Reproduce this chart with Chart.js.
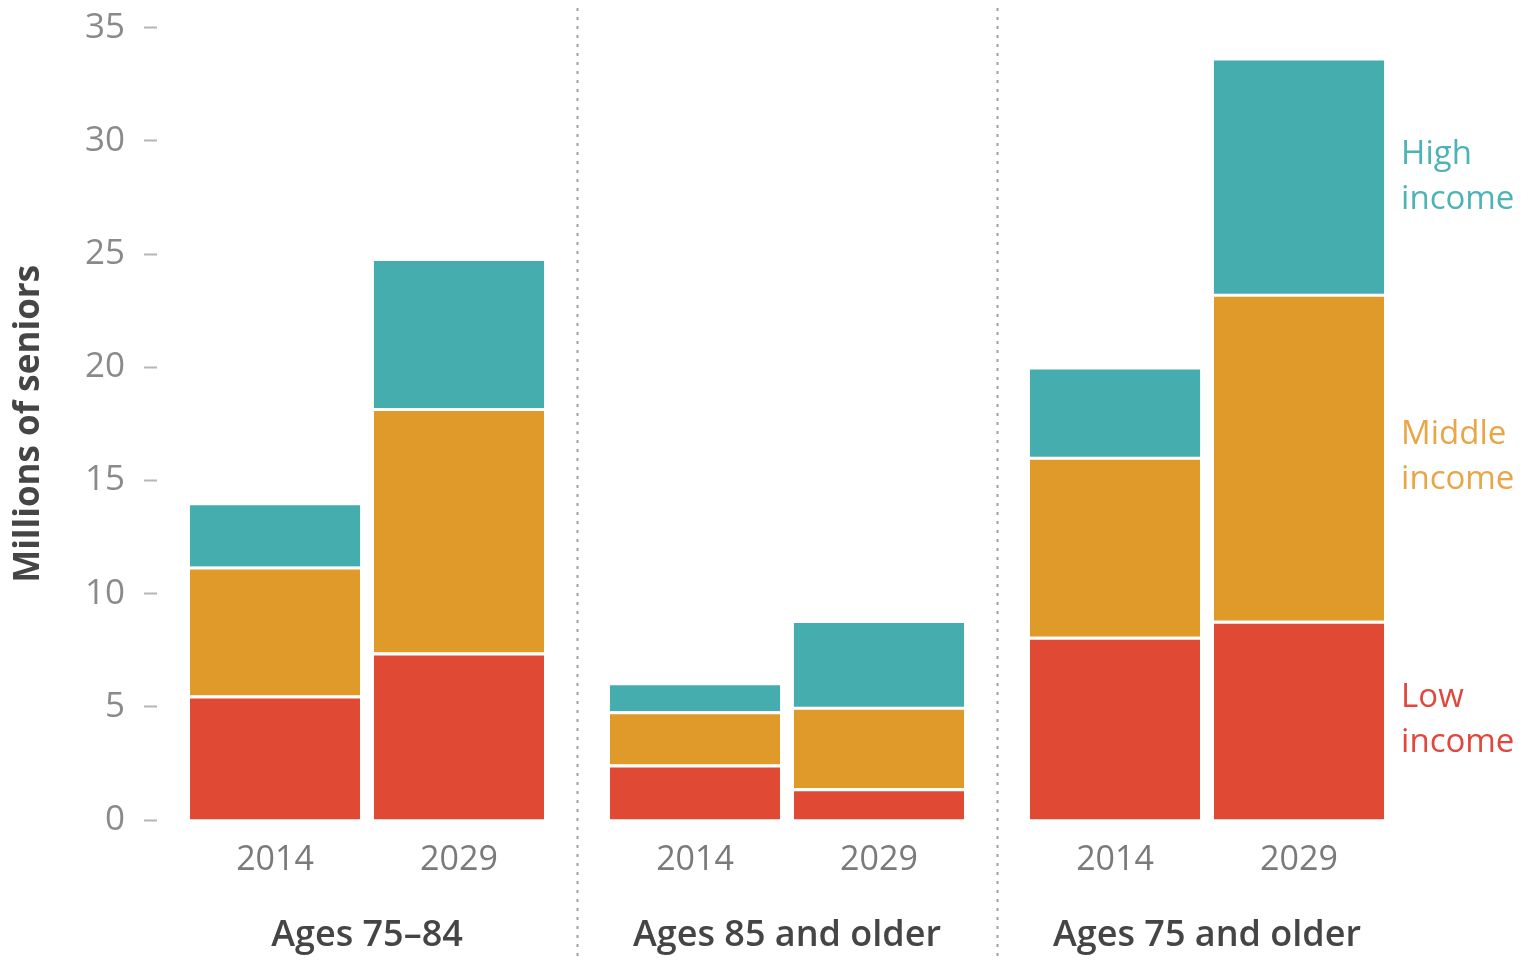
<!DOCTYPE html>
<html>
<head>
<meta charset="utf-8">
<script src="https://cdn.jsdelivr.net/npm/chart.js@4/dist/chart.umd.min.js"></script>
<style>
  html, body { margin: 0; padding: 0; background: #fff; }
  #wrap { width: 1529px; height: 962px; }
</style>
</head>
<body>
<div id="wrap"><canvas id="chart"></canvas></div>
<script>
const groups = ['Ages 75–84', 'Ages 85 and older', 'Ages 75 and older'];
const years = ['2014', '2029'];

// millions of seniors, one value per age group
const low2014 = [5.5, 2.45, 8.1];
const middle2014 = [5.7, 2.35, 7.95];
const high2014 = [2.7, 1.15, 3.85];

const low2029 = [7.4, 1.4, 8.8];
const middle2029 = [10.8, 3.6, 14.45];
const high2029 = [6.5, 3.7, 10.3];

const yTicks = [0, 5, 10, 15, 20, 25, 30, 35];

const RED = '#e04a35';
const ORANGE = '#df9a2a';
const TEAL = '#45adae';
const FONT = "'Open Sans', sans-serif";

const seriesLabels = ['Low\nincome', 'Middle\nincome', 'High\nincome'];
const labelColors = ['#e2473d', '#e8a646', '#4cb3b7'];

function bar(label, data, color, stack, sep) {
    return {
        label: label,
        data: data,
        stack: stack,
        backgroundColor: color,
        borderColor: '#fff',
        borderWidth: sep ? { top: 3, right: 0, bottom: 0, left: 0 } : 0,
        borderSkipped: false,
        categoryPercentage: 0.876,
        barPercentage: 0.925,
    };
}

// year labels under each bar, dotted separators, and income labels on the right
const extras = {
    id: 'extras',
    afterDraw(chart) {
        const ctx = chart.ctx;
        const x = chart.scales.x;
        ctx.save();

        // dotted separators between age groups
        ctx.strokeStyle = '#a0a0a0';
        ctx.lineWidth = 2;
        ctx.setLineDash([3, 6]);
        for (let i = 0; i < groups.length - 1; i++) {
            const sx = Math.round((x.getPixelForValue(i) + x.getPixelForValue(i + 1)) / 2) + 0.5;
            ctx.beginPath();
            ctx.moveTo(sx, 8);
            ctx.lineTo(sx, 958);
            ctx.stroke();
        }
        ctx.setLineDash([]);

        // years under bars (dataset 0 is 2014, dataset 3 is 2029)
        ctx.fillStyle = '#7a7a7a';
        ctx.font = '34px ' + FONT;
        ctx.textAlign = 'center';
        ctx.textBaseline = 'middle';
        [0, 3].forEach((di, yi) => {
            chart.getDatasetMeta(di).data.forEach(el => {
                ctx.fillText(years[yi], el.x, 860);
            });
        });

        // income labels next to the last 2029 bar
        ctx.textAlign = 'left';
        ctx.font = '33px ' + FONT;
        [3, 4, 5].forEach((di, k) => {
            const el = chart.getDatasetMeta(di).data[groups.length - 1];
            const mid = (el.y + el.base) / 2;
            const lines = seriesLabels[k].split('\n');
            ctx.fillStyle = labelColors[k];
            ctx.fillText(lines[0], el.x + el.width / 2 + 17, mid - 23);
            ctx.fillText(lines[1], el.x + el.width / 2 + 17, mid + 22);
        });
        ctx.restore();
    }
};

new Chart(document.getElementById('chart'), {
    type: 'bar',
    data: {
        labels: groups,
        datasets: [
            bar('Low income', low2014, RED, '2014', true),
            bar('Middle income', middle2014, ORANGE, '2014', true),
            bar('High income', high2014, TEAL, '2014', false),
            bar('Low income', low2029, RED, '2029', true),
            bar('Middle income', middle2029, ORANGE, '2029', true),
            bar('High income', high2029, TEAL, '2029', false),
        ],
    },
    options: {
        responsive: true,
        maintainAspectRatio: false,
        animation: false,
        layout: { padding: { top: 0, right: 112, bottom: 0, left: 0 } },
        plugins: {
            legend: { display: false },
            tooltip: { enabled: false },
        },
        scales: {
            x: {
                stacked: true,
                grid: { display: false, drawTicks: false },
                border: { display: false },
                ticks: {
                    padding: 94,
                    color: '#454545',
                    font: { family: FONT, size: 36, weight: '600' },
                },
                afterFit(scale) { scale.height = 142; },
            },
            y: {
                stacked: true,
                min: 0,
                max: 35,
                afterBuildTicks(scale) {
                    scale.ticks = yTicks.map(v => ({ value: v }));
                },
                grid: {
                    drawOnChartArea: false,
                    tickLength: 13,
                    tickColor: '#b5b5b5',
                    tickWidth: 2,
                },
                border: { display: false },
                ticks: {
                    padding: 19,
                    color: '#8a8a8a',
                    font: { family: FONT, size: 35, lineHeight: 0.5 },
                },
                title: {
                    display: true,
                    text: 'Millions of seniors',
                    color: '#454545',
                    font: { family: FONT, size: 35, weight: 'bold' },
                    padding: { top: 8, bottom: 0 },
                },
                afterFit(scale) { scale.width = 157; },
            },
        },
    },
    plugins: [extras],
});
</script>
</body>
</html>
